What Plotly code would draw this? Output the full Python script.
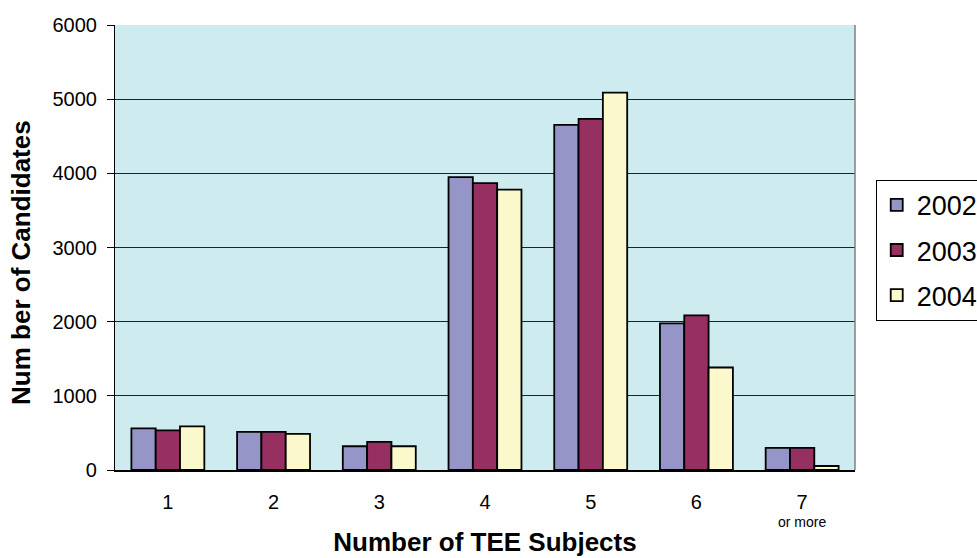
import plotly.graph_objects as go

# Number of TEE subjects taken, by year
categories = ["1", "2", "3", "4", "5", "6", "7"]
tick_main = ["1", "2", "3", "4", "5", "6", "7"]
tick_sub = ["", "", "", "", "", "", "or more"]
years = ["2002", "2003", "2004"]
values_2002 = [562, 514, 320, 3950, 4653, 1977, 297]
values_2003 = [535, 514, 378, 3869, 4734, 2085, 297]
values_2004 = [589, 486, 320, 3780, 5089, 1382, 54]

series = [values_2002, values_2003, values_2004]
colors = ["#9595C8", "#953060", "#FBF8CC"]

# Category labels: big digit with an optional small second line
tick_text = [
    f"<span style='font-size:20px'>{m}</span>" + (f"<br>{s}" if s else "")
    for m, s in zip(tick_main, tick_sub)
]

fig = go.Figure()
for name, vals, col in zip(years, series, colors):
    fig.add_trace(go.Bar(
        x=categories, y=vals, name=name, legendgroup=name,
        marker=dict(color=col, line=dict(color="black", width=1.8)),
    ))

fig.update_layout(
    width=977, height=558,
    margin=dict(l=115, r=122, t=25, b=88, autoexpand=False),
    paper_bgcolor="white",
    plot_bgcolor="#CEEBEF",
    barmode="group",
    bargap=0.31,
    bargroupgap=0,
    font=dict(family="Liberation Sans, Arial, sans-serif", size=20, color="black"),
    showlegend=True,
    legend=dict(
        x=1.028, y=0.652, xanchor="left", yanchor="top",
        bgcolor="white", bordercolor="black", borderwidth=1,
        font=dict(size=27), tracegroupgap=7,
    ),
    annotations=[dict(
        text="<b>Num ber of Candidates</b>", textangle=-90,
        xref="paper", yref="paper", x=-0.128, y=0.466,
        xanchor="center", yanchor="middle", showarrow=False,
        font=dict(size=26),
    )],
)

fig.update_xaxes(
    tickmode="array", tickvals=categories, ticktext=tick_text,
    tickfont=dict(size=14),
    showline=True, linecolor="black", linewidth=1.5,
    ticks="outside", ticklen=20, tickcolor="rgba(0,0,0,0)",
    title=dict(text="<b>Number of TEE Subjects</b>", font=dict(size=26), standoff=4),
    showgrid=False, mirror=False,
)
fig.update_yaxes(
    range=[0, 6000], dtick=1000,
    showline=True, linecolor="black", linewidth=1.2,
    ticks="outside", ticklen=7, tickcolor="black", ticklabelstandoff=6,
    showgrid=True, gridcolor="#222222", gridwidth=1,
    zeroline=False,
)

# Grey frame on the right of the plot area
fig.add_shape(type="line", xref="paper", yref="paper", x0=1, x1=1, y0=0, y1=1,
              line=dict(color="#808080", width=1.5))

fig.write_html("out.html")
